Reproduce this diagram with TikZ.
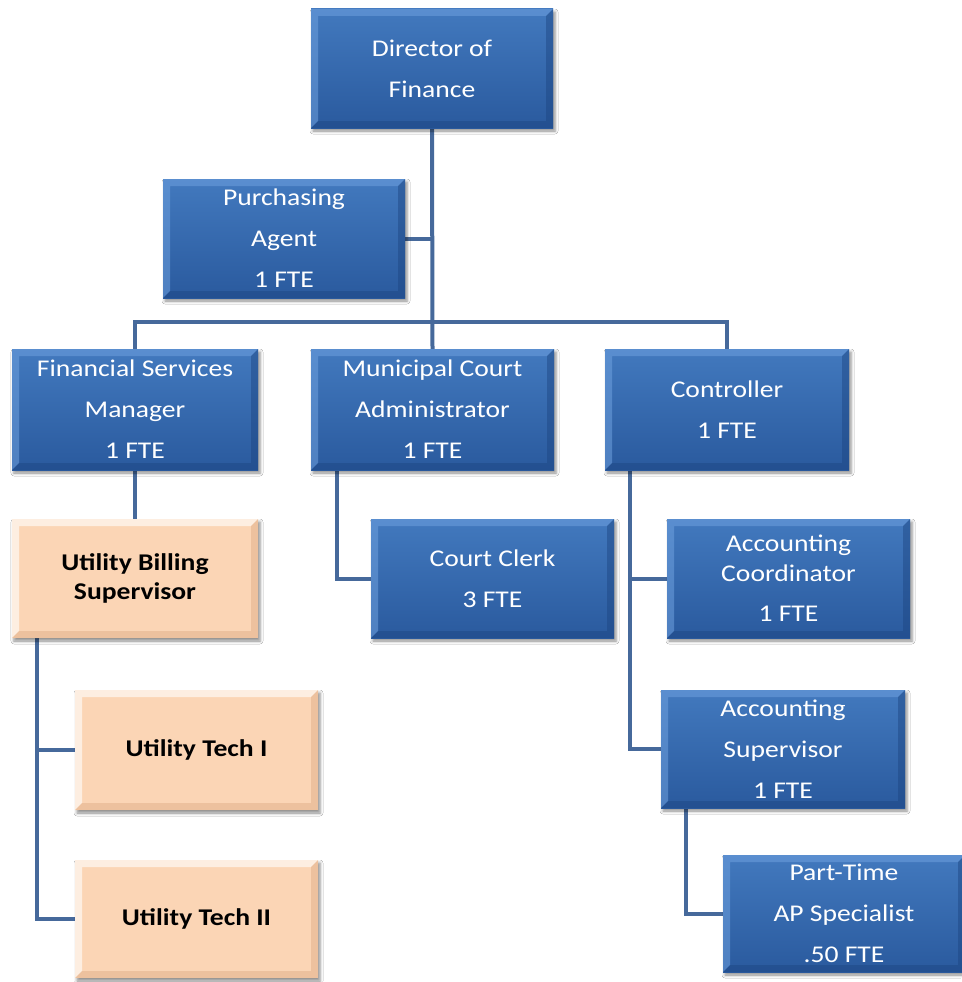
\documentclass[tikz,border=0pt]{standalone}
\usepackage{fontspec}
\setmainfont{Carlito}[FakeStretch=1.15]
\usetikzlibrary{shadows.blur,backgrounds}

\definecolor{bluetop}{RGB}{66,121,190}
\definecolor{bluebot}{RGB}{42,90,158}
\definecolor{bluelight}{RGB}{110,160,222}
\definecolor{bluedark}{RGB}{28,68,128}
\definecolor{peach}{RGB}{251,213,181}
\definecolor{peachdark}{RGB}{226,178,140}
\definecolor{conn}{RGB}{70,105,155}

\tikzset{
  bevel/.style 2 args={
    path picture={
      \path (path picture bounding box.north west) coordinate (pnw)
            (path picture bounding box.south east) coordinate (pse);
      % top and left faces
      \fill[#1] (pnw) -- (pnw -| pse) -- ([shift={(-7pt,-7pt)}]pnw -| pse)
                -- ([shift={(7pt,-7pt)}]pnw) -- ([shift={(7pt,7pt)}]pnw |- pse)
                -- (pnw |- pse) -- cycle;
      % bottom and right faces
      \fill[#2] (pse) -- (pse |- pnw) -- ([shift={(-7pt,-7pt)}]pse |- pnw)
                -- ([shift={(-7pt,7pt)}]pse) -- ([shift={(7pt,7pt)}]pnw |- pse)
                -- (pnw |- pse) -- cycle;
    }},
  orgbox/.style={rectangle, inner sep=0pt, align=center,
    blur shadow={shadow xshift=2pt, shadow yshift=-3pt,
                 shadow blur radius=3pt, shadow opacity=45}},
  bluebox/.style={orgbox, top color=bluetop, bottom color=bluebot,
    text=white, font=\fontsize{24}{41}\selectfont,
    bevel={bluelight,opacity=0.55}{bluedark,opacity=0.45}},
  peachbox/.style={orgbox, fill=peach, text=black,
    font=\fontsize{24}{29}\selectfont\bfseries,
    bevel={white,opacity=0.6}{peachdark,opacity=0.55}},
  link/.style={draw=conn, line width=4pt},
}

\begin{document}
\begin{tikzpicture}[x=1pt, y=-1pt]
\useasboundingbox (0,0) rectangle (961,982);

% upper levels
\node[bluebox, minimum width=242pt, minimum height=119pt] (dir) at (432,68.5)
  {Director of\\Finance};
\node[bluebox, minimum width=242pt, minimum height=119pt] (pur) at (284,238.5)
  {Purchasing\\Agent\\1 FTE};
\node[bluebox, minimum width=246pt, minimum height=121pt] (fsm) at (135,409.5)
  {Financial Services\\Manager\\1 FTE};
\node[bluebox, minimum width=243pt, minimum height=121pt] (mca) at (432.5,409.5)
  {Municipal Court\\Administrator\\1 FTE};
\node[bluebox, minimum width=244pt, minimum height=121pt] (ctl) at (727,409.5)
  {Controller\\1 FTE};

% lower levels
\node[peachbox, minimum width=246pt, minimum height=119pt] (ubs) at (135,578.5)
  {Utility Billing\\Supervisor};
\node[bluebox, minimum width=243pt, minimum height=119pt] (clk) at (492.5,578.5)
  {Court Clerk\\3 FTE};
\node[bluebox, minimum width=243pt, minimum height=119pt, font=\fontsize{24}{30}\selectfont] (aco) at (788.5,578.5)
  {Accounting\\Coordinator\\[10pt]1 FTE};
\node[peachbox, minimum width=243pt, minimum height=120pt] (ut1) at (196.5,750)
  {Utility Tech I};
\node[bluebox, minimum width=244pt, minimum height=118pt] (asu) at (783,749)
  {Accounting\\Supervisor\\1 FTE};
\node[peachbox, minimum width=243pt, minimum height=118pt] (ut2) at (196.5,919)
  {Utility Tech II};
\node[bluebox, minimum width=242pt, minimum height=117pt] (aps) at (844,913.5)
  {Part-Time\\AP Specialist\\.50 FTE};

\begin{scope}[on background layer]
  \fill[white] (0,0) rectangle (961,982);
  \coordinate (bar) at (432,322);
  \draw[link] (dir.south) -- (mca.north);
  \draw[link] (pur.east) -- (pur.east -| dir.south);
  \draw[link] (fsm.north) |- (bar) -| (ctl.north);
  \draw[link] (fsm.south) -- (ubs.north);
  \draw[link] ([xshift=-96pt]mca.south) |- (clk.west);
  \path ([xshift=-97pt]ctl.south) coordinate (ctldrop);
  \draw[link] (ctldrop) |- (asu.west);
  \draw[link] (ctldrop |- aco.west) -- (aco.west);
  \draw[link] ([xshift=-97pt]asu.south) |- (aps.west);
  \path ([xshift=-98pt]ubs.south) coordinate (ubsdrop);
  \draw[link] (ubsdrop) |- (ut2.west);
  \draw[link] (ubsdrop |- ut1.west) -- (ut1.west);
\end{scope}
\end{tikzpicture}
\end{document}
